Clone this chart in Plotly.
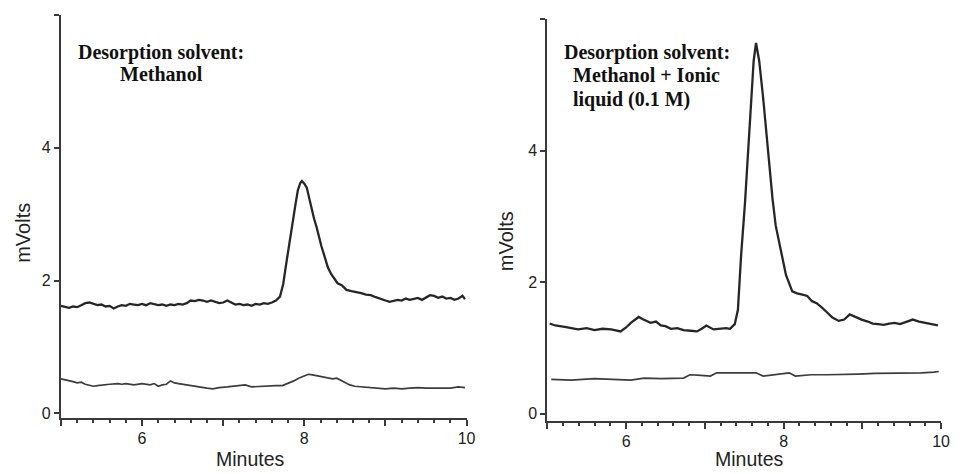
import plotly.graph_objects as go

# ---------------- data ----------------
# Left panel: desorption with methanol
left_top_t = [5.0, 5.05, 5.1, 5.15, 5.2, 5.25, 5.3, 5.35, 5.4, 5.45, 5.5, 5.55, 5.6, 5.65, 5.7, 5.75,
              5.8, 5.85, 5.9, 5.95, 6.0, 6.05, 6.1, 6.15, 6.2, 6.25, 6.3, 6.35, 6.4, 6.45, 6.5, 6.55,
              6.6, 6.65, 6.7, 6.75, 6.8, 6.85, 6.9, 6.95, 7.0, 7.05, 7.1, 7.15, 7.2, 7.25, 7.3, 7.35,
              7.4, 7.45, 7.5, 7.55, 7.6, 7.65, 7.7, 7.74, 7.77, 7.8, 7.83, 7.86, 7.89, 7.92, 7.95,
              7.97, 8.0, 8.03, 8.06, 8.09, 8.12, 8.15, 8.18, 8.21, 8.25, 8.29, 8.33, 8.37, 8.41, 8.46,
              8.52, 8.58, 8.64, 8.7, 8.76, 8.82, 8.88, 8.94, 9.0, 9.05, 9.1, 9.15, 9.2, 9.25, 9.3,
              9.35, 9.4, 9.45, 9.5, 9.55, 9.6, 9.65, 9.7, 9.75, 9.8, 9.85, 9.9, 9.95, 9.98]
left_top_v = [1.62, 1.60, 1.59, 1.61, 1.60, 1.63, 1.66, 1.67, 1.65, 1.63, 1.64, 1.61, 1.62, 1.58, 1.61, 1.63,
              1.62, 1.65, 1.64, 1.63, 1.65, 1.63, 1.66, 1.64, 1.63, 1.64, 1.62, 1.64, 1.63, 1.65, 1.64, 1.66,
              1.70, 1.69, 1.71, 1.70, 1.68, 1.70, 1.68, 1.66, 1.67, 1.70, 1.67, 1.64, 1.65, 1.63, 1.64, 1.62,
              1.65, 1.64, 1.66, 1.65, 1.67, 1.70, 1.76, 1.95, 2.20, 2.45, 2.70, 2.92, 3.14, 3.36, 3.47,
              3.50, 3.46, 3.40, 3.24, 3.07, 2.93, 2.81, 2.66, 2.52, 2.36, 2.20, 2.10, 2.03, 1.96, 1.93,
              1.86, 1.84, 1.83, 1.81, 1.79, 1.78, 1.75, 1.72, 1.70, 1.68, 1.69, 1.71, 1.70, 1.73, 1.71,
              1.72, 1.74, 1.71, 1.75, 1.78, 1.77, 1.74, 1.76, 1.73, 1.74, 1.71, 1.73, 1.77, 1.72]

left_bot_t = [5.0, 5.05, 5.1, 5.15, 5.2, 5.25, 5.3, 5.35, 5.4, 5.45, 5.5, 5.6, 5.7, 5.75, 5.8, 5.9,
              6.0, 6.1, 6.15, 6.2, 6.25, 6.3, 6.35, 6.4, 6.45, 6.5, 6.6, 6.7, 6.8, 6.87, 6.95, 7.05,
              7.15, 7.27, 7.35, 7.45, 7.55, 7.65, 7.73, 7.8, 7.87, 7.93, 8.0, 8.05, 8.1, 8.15, 8.2,
              8.25, 8.3, 8.35, 8.4, 8.45, 8.5, 8.56, 8.62, 8.7, 8.8, 8.9, 9.0, 9.1, 9.2, 9.3, 9.4,
              9.5, 9.6, 9.7, 9.8, 9.9, 9.98]
left_bot_v = [0.52, 0.51, 0.49, 0.48, 0.46, 0.47, 0.44, 0.43, 0.41, 0.42, 0.43, 0.44, 0.45, 0.44, 0.45, 0.43,
              0.45, 0.43, 0.45, 0.41, 0.43, 0.44, 0.49, 0.46, 0.45, 0.44, 0.42, 0.39, 0.38, 0.37, 0.39, 0.40,
              0.41, 0.43, 0.40, 0.41, 0.42, 0.42, 0.42, 0.45, 0.49, 0.53, 0.57, 0.59, 0.58, 0.57, 0.56,
              0.54, 0.53, 0.52, 0.53, 0.50, 0.47, 0.43, 0.41, 0.40, 0.39, 0.38, 0.37, 0.38, 0.37, 0.38, 0.39,
              0.38, 0.38, 0.39, 0.38, 0.40, 0.39]

# Right panel: desorption with methanol + ionic liquid (0.1 M)
right_top_t = [5.03, 5.1, 5.22, 5.3, 5.39, 5.5, 5.6, 5.7, 5.81, 5.93, 6.0, 6.06, 6.12, 6.16, 6.22, 6.31,
               6.38, 6.44, 6.5, 6.57, 6.65, 6.73, 6.82, 6.9, 6.96, 7.02, 7.11, 7.2, 7.27, 7.32, 7.38,
               7.42, 7.46, 7.51, 7.55, 7.59, 7.62, 7.65, 7.69, 7.74, 7.78, 7.82, 7.86, 7.9, 7.97,
               8.03, 8.11, 8.17, 8.24, 8.3, 8.36, 8.42, 8.49, 8.55, 8.62, 8.7, 8.77, 8.84, 8.91,
               8.99, 9.07, 9.13, 9.2, 9.27, 9.34, 9.41, 9.48, 9.56, 9.64, 9.72, 9.79, 9.87, 9.96]
right_top_v = [1.37, 1.34, 1.32, 1.30, 1.28, 1.30, 1.27, 1.29, 1.28, 1.25, 1.31, 1.38, 1.44, 1.47, 1.43, 1.38,
               1.40, 1.34, 1.33, 1.29, 1.30, 1.27, 1.26, 1.25, 1.29, 1.34, 1.28, 1.29, 1.30, 1.29, 1.36,
               1.58, 2.40, 3.21, 4.06, 4.81, 5.37, 5.64, 5.37, 4.81, 4.27, 3.76, 3.26, 2.86, 2.46,
               2.11, 1.86, 1.83, 1.81, 1.79, 1.71, 1.68, 1.61, 1.54, 1.46, 1.41, 1.43, 1.51, 1.47,
               1.43, 1.40, 1.37, 1.36, 1.35, 1.37, 1.38, 1.36, 1.40, 1.43, 1.40, 1.38, 1.36, 1.34]

right_bot_t = [5.05, 5.3, 5.6, 5.85, 6.06, 6.23, 6.45, 6.73, 6.81, 6.95, 7.07, 7.15, 7.4, 7.65, 7.74,
               7.9, 8.07, 8.15, 8.35, 8.55, 8.74, 8.95, 9.16, 9.38, 9.58, 9.75, 9.91, 9.97]
right_bot_v = [0.52, 0.51, 0.53, 0.52, 0.51, 0.54, 0.53, 0.54, 0.59, 0.58, 0.57, 0.62, 0.62, 0.62, 0.57,
               0.59, 0.62, 0.57, 0.59, 0.59, 0.60, 0.60, 0.61, 0.61, 0.62, 0.62, 0.63, 0.64]

x_tick_vals = [5, 6, 7, 8, 9, 10]
x_tick_text = ["", "6", "", "8", "", "10"]
y_tick_vals = [0, 2, 4, 6]
y_tick_text = ["0", "2", "4", ""]

# ---------------- figure ----------------
W, H = 962, 474
TRACE_DARK = "#262626"
TRACE_LIGHT = "#3c3c3c"
AXIS_COL = "#3a3a3a"

fig = go.Figure()
fig.add_trace(go.Scatter(x=left_top_t, y=left_top_v, mode="lines",
                         line=dict(color=TRACE_DARK, width=2.3), xaxis="x", yaxis="y"))
fig.add_trace(go.Scatter(x=left_bot_t, y=left_bot_v, mode="lines",
                         line=dict(color=TRACE_LIGHT, width=1.7), xaxis="x", yaxis="y"))
fig.add_trace(go.Scatter(x=right_top_t, y=right_top_v, mode="lines",
                         line=dict(color=TRACE_DARK, width=2.3), xaxis="x2", yaxis="y2"))
fig.add_trace(go.Scatter(x=right_bot_t, y=right_bot_v, mode="lines",
                         line=dict(color=TRACE_LIGHT, width=1.7), xaxis="x2", yaxis="y2"))

tick_font = dict(family="Liberation Sans, Arial, sans-serif", size=16, color="#222")

def xaxis_cfg(domain, anchor):
    return dict(domain=domain, anchor=anchor, range=[5, 10], showgrid=False, zeroline=False,
                showline=True, linecolor=AXIS_COL, linewidth=2,
                tickmode="array", tickvals=x_tick_vals, ticktext=x_tick_text,
                ticks="outside", ticklen=6, tickwidth=2, tickcolor=AXIS_COL,
                minor=dict(dtick=0.2, ticks="outside", ticklen=3, tickwidth=2, tickcolor=AXIS_COL),
                tickfont=tick_font, ticklabeloverflow="allow", ticklabelstandoff=-2,
                fixedrange=True)

def yaxis_cfg(domain, anchor, rng):
    return dict(domain=domain, anchor=anchor, range=rng, showgrid=False, zeroline=False,
                showline=True, linecolor=AXIS_COL, linewidth=2,
                tickmode="array", tickvals=y_tick_vals, ticktext=y_tick_text,
                ticks="outside", ticklen=5, tickwidth=2, tickcolor=AXIS_COL,
                tickfont=tick_font, fixedrange=True)

fig.update_layout(
    width=W, height=H,
    margin=dict(l=0, r=0, t=0, b=0),
    paper_bgcolor="white", plot_bgcolor="white",
    showlegend=False,
    xaxis=xaxis_cfg([61.5 / W, 471 / W], "y"),
    yaxis=yaxis_cfg([1 - 422 / H, 1 - 15 / H], "x", [-0.075, 6]),
    xaxis2=xaxis_cfg([552.5 / W, 950 / W], "y2"),
    yaxis2=yaxis_cfg([1 - 425 / H, 1 - 19.5 / H], "x2", [-0.12, 6]),
)

title_font = dict(family="Liberation Sans, Arial, sans-serif", size=20, color="#222")
xtitle_font = dict(family="Liberation Sans, Arial, sans-serif", size=19.5, color="#222")
note_font = dict(family="Liberation Serif, Times New Roman, serif", size=20, color="#111")

def ann(text, px, py, font, xanchor="center", yanchor="middle", angle=0):
    fig.add_annotation(text=text, x=px / W, y=1 - py / H, xref="paper", yref="paper",
                       xanchor=xanchor, yanchor=yanchor, showarrow=False, font=font,
                       textangle=angle, borderpad=0)

# axis titles
ann("mVolts", 23, 235, title_font, angle=-90)
ann("Minutes", 253, 463, xtitle_font)
ann("mVolts", 511, 243, title_font, angle=-90)
ann("Minutes", 757, 463, xtitle_font)

# panel notes
ann("<b>Desorption solvent:</b>", 162.5, 53, note_font)
ann("<b>Methanol</b>", 163, 75, note_font)
ann("<b>Desorption solvent:</b>", 568, 53, note_font, xanchor="left")
ann("<b>Methanol + Ionic</b>", 577, 76, note_font, xanchor="left")
ann("<b>liquid (0.1 M)</b>", 577, 100, note_font, xanchor="left")

fig.write_html("out.html", config={"displayModeBar": False},
               post_script="document.body.style.margin='0';document.body.style.overflow='hidden';")
